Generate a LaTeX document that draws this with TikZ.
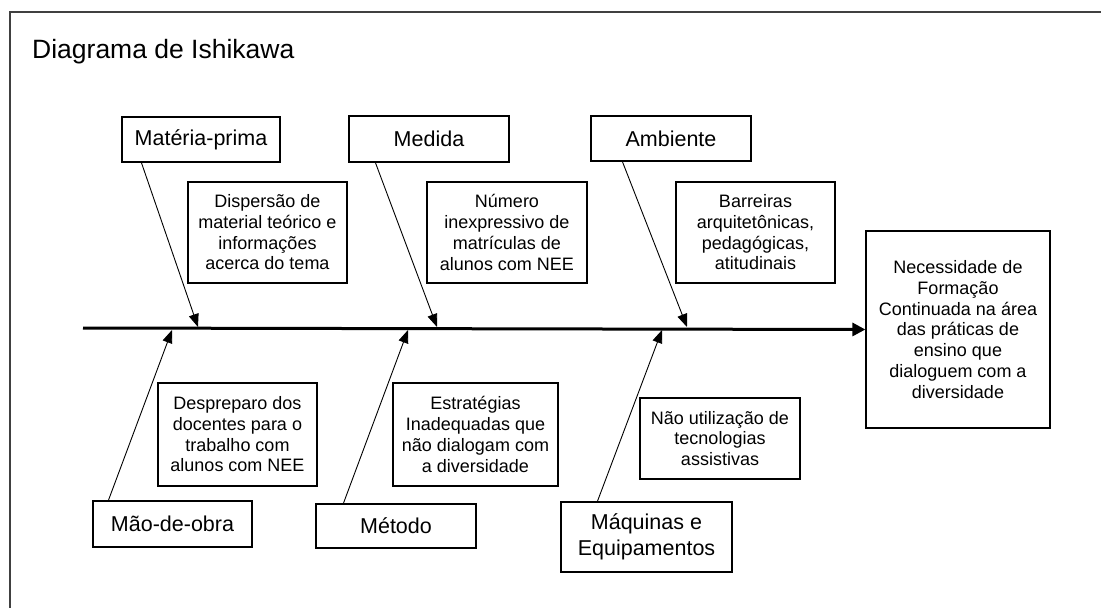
\documentclass[tikz,border=0pt]{standalone}
\usepackage{fontspec}
\setmainfont{Liberation Sans}
\usetikzlibrary{arrows.meta}
\tikzset{
  frameline/.style={line width=1.6pt, draw=black!75},
  cat/.style={draw, line width=1.2pt, align=center, inner sep=0pt,
    font=\fontsize{21.5}{25.5}\selectfont},
  desc/.style={draw, line width=1.2pt, align=center, inner sep=0pt,
    font=\fontsize{18}{20.7}\selectfont},
  spine/.style={line width=3pt, -{Triangle[length=13pt,width=13pt]}},
  bone/.style={line width=0.9pt, -{Triangle[length=13pt,width=10pt]}},
  title/.style={anchor=base west, inner sep=0pt, font=\fontsize{26.5}{30}\selectfont}
}
\begin{document}
\begin{tikzpicture}[x=1pt,y=-1pt]
\useasboundingbox (0,0) rectangle (1101,608);
% frame
\draw[frameline] (10,608) -- (10,12) -- (1101,12);
\node[title] (ttl) at (32,58) {Diagrama de Ishikawa};

% result
\node[desc, minimum width=184pt, minimum height=197pt] (res) at (958,329.5)
  {Necessidade de\\Formação\\Continuada na área\\das práticas de\\ensino que\\dialoguem com a\\diversidade};

% spine
\coordinate (s0) at (83,328);
\draw[spine] (s0) -- (res.west);

% top categories
\node[cat, minimum width=158pt, minimum height=45pt] (mp) at (201,139.5) {Matéria-prima};
\node[cat, minimum width=160pt, minimum height=46pt] (med) at (429,139) {Medida};
\node[cat, minimum width=160pt, minimum height=45pt] (amb) at (671,138.5) {Ambiente};

\node[desc, minimum width=159pt, minimum height=101pt] (d1) at (267.5,232.5)
  {Dispersão de\\material teórico e\\informações\\acerca do tema};
\node[desc, minimum width=160pt, minimum height=101pt] (d2) at (507,232.5)
  {Número\\inexpressivo de\\matrículas de\\alunos com NEE};
\node[desc, minimum width=159pt, minimum height=101pt] (d3) at (755.5,232.5)
  {Barreiras\\arquitetônicas,\\pedagógicas,\\atitudinais};

% bottom categories
\node[cat, minimum width=159pt, minimum height=46pt] (mo) at (172.5,524) {Mão-de-obra};
\node[cat, minimum width=160pt, minimum height=44pt] (met) at (396,526) {Método};
\node[cat, minimum width=171pt, minimum height=70pt] (maq) at (646.5,537) {Máquinas e\\Equipamentos};

\node[desc, minimum width=159pt, minimum height=103pt] (d4) at (237.5,434.5)
  {Despreparo dos\\docentes para o\\trabalho com\\alunos com NEE};
\node[desc, minimum width=165pt, minimum height=103pt] (d5) at (475.5,434.5)
  {Estratégias\\Inadequadas que\\não dialogam com\\a diversidade};
\node[desc, minimum width=160pt, minimum height=81pt] (d6) at (720,438.5)
  {Não utilização de\\tecnologias\\assistivas};

% tips on spine
\coordinate (t1) at (198,327);
\coordinate (t2) at (437,327);
\coordinate (t3) at (687,327);
\coordinate (b1) at (172,330);
\coordinate (b2) at (408,330);
\coordinate (b3) at (662,330);

\draw[bone] ([xshift=20pt]mp.south west) -- (t1);
\draw[bone] ([xshift=27pt]med.south west) -- (t2);
\draw[bone] ([xshift=32pt]amb.south west) -- (t3);
\draw[bone] ([xshift=16pt]mo.north west) -- (b1);
\draw[bone] ([xshift=28pt]met.north west) -- (b2);
\draw[bone] ([xshift=37pt]maq.north west) -- (b3);
\end{tikzpicture}
\end{document}
